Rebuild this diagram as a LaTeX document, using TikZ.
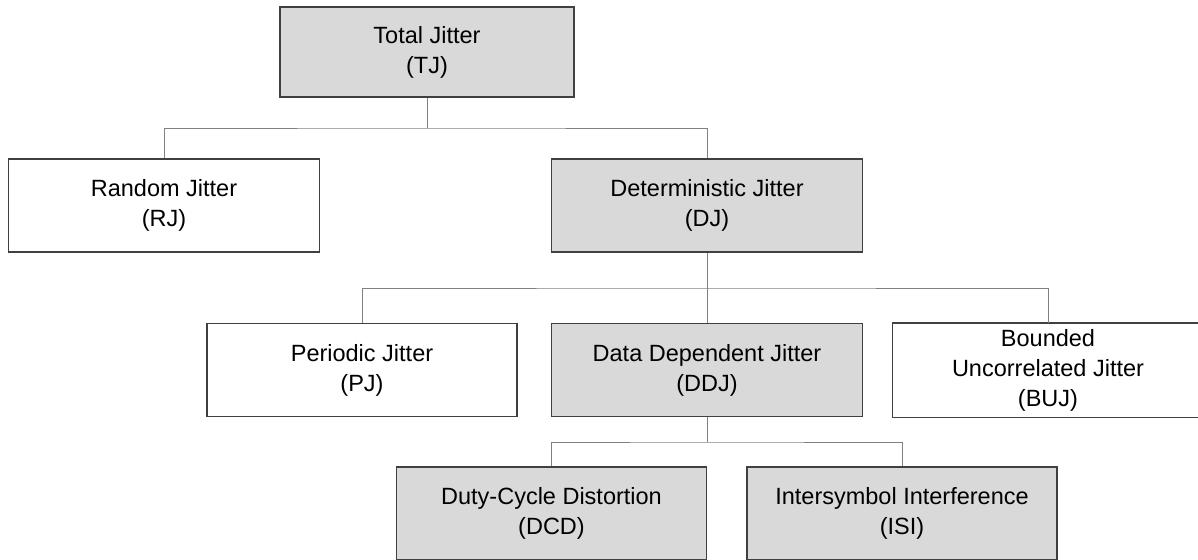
\documentclass[tikz,border=0pt]{standalone}
\usepackage{fontspec}
\setmainfont{Liberation Sans}
\begin{document}
\begin{tikzpicture}[x=1pt,y=-1pt,
  box/.style={draw=black!75,line width=1.3pt,minimum width=311pt,minimum height=93pt,
    align=center,inner sep=0pt,font=\fontsize{23.5}{30}\selectfont},
  grey/.style={box,fill=black!15},
  white/.style={box,fill=white},
  edge/.style={draw=black!75,line width=1.3pt},
  conn/.style={draw=black!50,line width=1pt}]
\useasboundingbox (0,0) rectangle (1198,559);
\node[grey,minimum width=294pt,minimum height=90pt] (tj) at (427,52) {Total Jitter\\(TJ)};
\node[white] (rj) at (164,205.5) {Random Jitter\\(RJ)};
\node[grey] (dj) at (707,205.5) {Deterministic Jitter\\(DJ)};
\node[white,minimum width=310pt] (pj) at (362,370) {Periodic Jitter\\(PJ)};
\node[grey] (ddj) at (707,370) {Data Dependent Jitter\\(DDJ)};
\node[white,draw=none,minimum width=310pt] (buj) at (1048,370) {Bounded\\Uncorrelated Jitter\\(BUJ)};
\draw[edge] ([xshift=40pt]buj.north east) -- (buj.north west) -- (buj.south west) -- ([xshift=40pt]buj.south east);
\node[grey,minimum width=310pt] (dcd) at (551.5,513.5) {Duty-Cycle Distortion\\(DCD)};
\node[grey,minimum width=310pt] (isi) at (902,513.5) {Intersymbol Interference\\(ISI)};
\coordinate (b1) at (427,128);
\coordinate (b2) at (707,288);
\coordinate (b3) at (707,442);
\draw[conn] (tj.south) -- (b1);
\draw[conn] (rj.north) |- (b1) -| (dj.north);
\draw[conn] (dj.south) -- (ddj.north);
\draw[conn] (pj.north) |- (b2) -| (buj.north);
\draw[conn] (ddj.south) -- (b3);
\draw[conn] (dcd.north) |- (b3) -| (isi.north);
\end{tikzpicture}
\end{document}
